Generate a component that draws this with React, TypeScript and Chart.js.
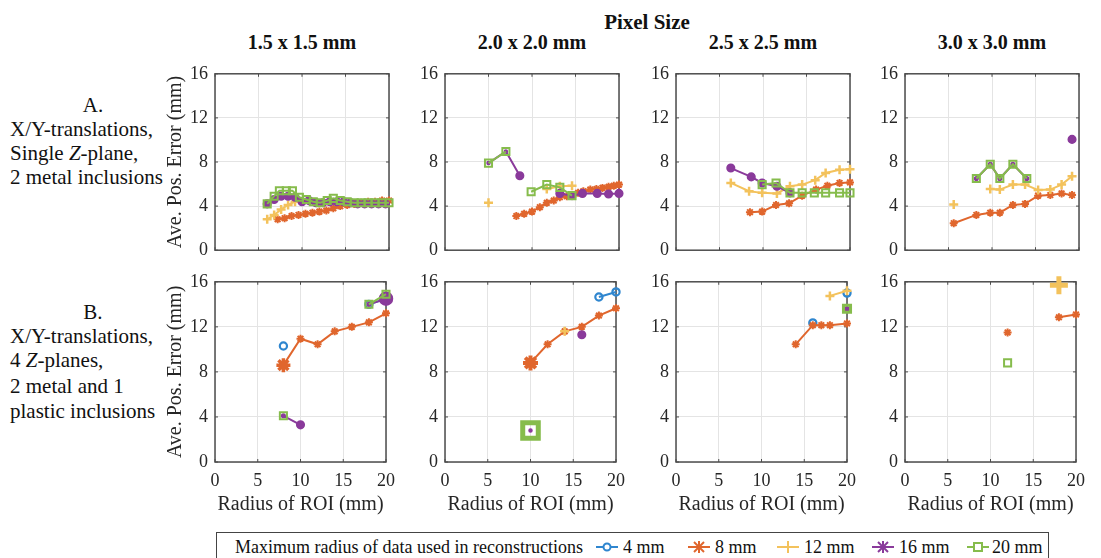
import React, { useEffect, useRef } from 'react';
import { Chart, registerables } from 'chart.js';

Chart.register(...registerables);

type Pt = [number, number | null];

// ---------- axis ticks / labels ----------
const X_TICKS = [0, 5, 10, 15, 20];
const Y_TICKS = [0, 4, 8, 12, 16];
const SERIES_NAMES = ['4 mm', '8 mm', '12 mm', '16 mm', '20 mm'];
const COLUMN_TITLES = ['1.5 x 1.5 mm', '2.0 x 2.0 mm', '2.5 x 2.5 mm', '3.0 x 3.0 mm'];
const X_TITLE = 'Radius of ROI (mm)';
const Y_TITLE = 'Ave. Pos. Error (mm)';
const LEGEND_TITLE = 'Maximum radius of data used in reconstructions';

// ---------- Row A: X/Y-translations, single Z-plane ----------
const A1_4mm: Pt[] = [];
const A1_8mm: Pt[] = [[7.2, 2.8], [8, 2.9], [8.8, 3.1], [9.6, 3.2], [10.4, 3.3], [11.2, 3.4], [12, 3.5], [12.8, 3.6], [13.6, 3.8], [14.4, 4.0], [15.2, 4.1], [16, 4.2], [16.8, 4.3], [17.6, 4.4], [18.4, 4.4], [19.2, 4.5], [20, 4.5]];
const A1_12mm: Pt[] = [[6, 2.8], [6.8, 3.2], [7.6, 3.7], [8.4, 4.1], [9.2, 4.4]];
const A1_16mm: Pt[] = [[6, 4.2], [6.8, 4.6], [7.6, 4.9], [8.4, 4.9], [9.2, 4.8], [10, 4.4], [10.8, 4.5], [11.6, 4.3], [12.4, 4.3], [13.2, 4.4], [14, 4.4], [14.8, 4.4], [15.6, 4.3], [16.4, 4.2], [17.2, 4.2], [18, 4.2], [18.8, 4.2], [19.6, 4.2]];
const A1_20mm: Pt[] = [[6, 4.2], [6.8, 4.9], [7.4, 5.4], [8.2, 5.4], [8.9, 5.4], [9.7, 4.8], [10.5, 4.6], [11.3, 4.4], [12.1, 4.3], [12.9, 4.5], [13.6, 4.7], [14.4, 4.5], [15.2, 4.4], [16, 4.3], [16.8, 4.3], [17.6, 4.3], [18.4, 4.3], [19.2, 4.3], [20, 4.3]];

const A2_4mm: Pt[] = [];
const A2_8mm: Pt[] = [[8.2, 3.1], [9.1, 3.3], [10, 3.5], [10.9, 3.9], [11.7, 4.3], [12.5, 4.5], [13.2, 4.8], [14, 4.9], [14.6, 4.95], [15.3, 5.2], [15.9, 5.35], [16.7, 5.5], [17.4, 5.55], [18.1, 5.65], [18.8, 5.75], [19.4, 5.85], [20, 5.95]];
const A2_12mm: Pt[] = [[5, 4.3], [6, null], [11.7, 5.55], [13.2, 5.8], [14.6, 5.85]];
const A2_16mm: Pt[] = [[5, 7.9], [7, 8.95], [8.6, 6.75], [10, null], [13.2, 5.15], [14.6, 4.95], [15.8, 5.15], [17.5, 5.15], [18.8, 5.1], [20, 5.15]];
const A2_20mm: Pt[] = [[5, 7.9], [7, 8.95], [8.6, null], [9.9, 5.3], [11.7, 5.95], [13.2, 5.7], [14.6, 4.95]];

const A3_4mm: Pt[] = [];
const A3_8mm: Pt[] = [[8.5, 3.45], [9.9, 3.5], [11.5, 4.1], [13, 4.25], [14.5, 4.95], [16.1, 5.5], [17.4, 5.85], [18.8, 6.1], [20, 6.15]];
const A3_12mm: Pt[] = [[6.3, 6.1], [8.4, 5.35], [9.9, 5.2], [11.6, 5.15], [13.1, 5.8], [14.5, 5.95], [16, 6.35], [17.2, 7.0], [18.8, 7.3], [20, 7.35]];
const A3_16mm: Pt[] = [[6.3, 7.45], [8.65, 6.65], [9.9, 6.1], [11.6, 5.8], [13.1, 5.2]];
const A3_20mm: Pt[] = [[9.9, 5.95], [11.5, 6.1], [13.1, 5.2], [14.5, 5.2], [15.9, 5.2], [17.2, 5.2], [18.8, 5.2], [20, 5.2]];

const A4_4mm: Pt[] = [];
const A4_8mm: Pt[] = [[5.6, 2.45], [8.2, 3.2], [9.8, 3.4], [10.9, 3.4], [12.4, 4.1], [13.8, 4.2], [15.3, 4.95], [16.7, 5.0], [18, 5.15], [19.2, 5.0]];
const A4_12mm: Pt[] = [[5.6, 4.15], [6.5, null], [9.8, 5.55], [10.9, 5.5], [12.4, 5.95], [13.8, 5.95], [15.3, 5.45], [16.7, 5.5], [18, 5.95], [19.2, 6.7]];
const A4_16mm: Pt[] = [[8.2, 6.5], [9.8, 7.8], [10.9, 6.5], [12.4, 7.8], [14, 6.5], [15, null], [19.2, 10.05]];
const A4_20mm: Pt[] = [[8.2, 6.5], [9.8, 7.8], [10.9, 6.5], [12.4, 7.8], [14, 6.5]];

// ---------- Row B: X/Y-translations, 4 Z-planes ----------
const B1_4mm: Pt[] = [[8, 10.3], [9, null], [18, 14.0], [20, 14.5]];
const B1_8mm: Pt[] = [[8, 8.6], [10, 10.95], [12, 10.45], [14, 11.6], [16, 12.0], [18, 12.4], [20, 13.2]];
const B1_12mm: Pt[] = [];
const B1_16mm: Pt[] = [[8, 4.1], [10, 3.3], [12, null], [18, 14.0], [20, 14.5]];
const B1_20mm: Pt[] = [[8, 4.1], [10, null], [18, 14.0], [20, 14.9]];

const B2_4mm: Pt[] = [[18, 14.65], [20, 15.1]];
const B2_8mm: Pt[] = [[10, 8.8], [12, 10.45], [14, 11.6], [16, 12.0], [18, 13.0], [20, 13.65]];
const B2_12mm: Pt[] = [[14, 11.6]];
const B2_16mm: Pt[] = [[10, 2.8], [12, null], [16, 11.3]];
const B2_20mm: Pt[] = [[10, 2.8]];

const B3_4mm: Pt[] = [[16, 12.35], [18, null], [20, 15.0]];
const B3_8mm: Pt[] = [[14, 10.45], [16, 12.15], [17, 12.15], [18, 12.15], [20, 12.3]];
const B3_12mm: Pt[] = [[18, 14.75], [20, 15.2]];
const B3_16mm: Pt[] = [[20, 13.6]];
const B3_20mm: Pt[] = [[20, 13.6]];

const B4_4mm: Pt[] = [];
const B4_8mm: Pt[] = [[12, 11.5], [14, null], [18, 12.85], [20, 13.1]];
const B4_12mm: Pt[] = [[18, 15.7]];
const B4_16mm: Pt[] = [];
const B4_20mm: Pt[] = [[12, 8.8]];

const PANELS = [
  { id: 'A1', row: 0, col: 0, series: [A1_4mm, A1_8mm, A1_12mm, A1_16mm, A1_20mm] },
  { id: 'A2', row: 0, col: 1, series: [A2_4mm, A2_8mm, A2_12mm, A2_16mm, A2_20mm] },
  { id: 'A3', row: 0, col: 2, series: [A3_4mm, A3_8mm, A3_12mm, A3_16mm, A3_20mm] },
  { id: 'A4', row: 0, col: 3, series: [A4_4mm, A4_8mm, A4_12mm, A4_16mm, A4_20mm] },
  { id: 'B1', row: 1, col: 0, series: [B1_4mm, B1_8mm, B1_12mm, B1_16mm, B1_20mm] },
  { id: 'B2', row: 1, col: 1, series: [B2_4mm, B2_8mm, B2_12mm, B2_16mm, B2_20mm] },
  { id: 'B3', row: 1, col: 2, series: [B3_4mm, B3_8mm, B3_12mm, B3_16mm, B3_20mm] },
  { id: 'B4', row: 1, col: 3, series: [B4_4mm, B4_8mm, B4_12mm, B4_16mm, B4_20mm] },
];

// ---------- styles / layout ----------
const FONT = "'Liberation Serif', 'Times New Roman', Times, serif";
const COLORS = ['#2F86CF', '#E0662D', '#F3C25C', '#8A3A9B', '#86BC4C'];
const STYLES = [
  { pointStyle: 'circle', r: 3.6, bw: 2.2, fill: false },
  { pointStyle: 'star', r: 4, bw: 2, fill: false },
  { pointStyle: 'cross', r: 4.5, bw: 2.5, fill: false },
  { pointStyle: 'circle', r: 3.8, bw: 1.5, fill: true },
  { pointStyle: 'rect', r: 5, bw: 2, fill: false },
];
// per-panel marker size overrides: panel -> series -> point index
const MARKER_OVERRIDES: Record<string, Record<number, Record<number, { r?: number; bw?: number }>>> = {
  A2: { 3: { 0: { r: 1.5 }, 1: { r: 1.5 } } },
  A4: { 3: { 0: { r: 1.8 }, 1: { r: 1.8 }, 2: { r: 1.8 }, 3: { r: 1.8 }, 4: { r: 1.8 } } },
  B1: { 1: { 0: { r: 7, bw: 3.5 } }, 3: { 0: { r: 1.8 }, 3: { r: 1.8 }, 4: { r: 6.5 } } },
  B2: { 1: { 0: { r: 7.5, bw: 4 } }, 3: { 0: { r: 1.5 } }, 4: { 0: { r: 11, bw: 5 } } },
  B3: { 3: { 0: { r: 2 } }, 4: { 0: { r: 5, bw: 3 } } },
  B4: { 2: { 0: { r: 9, bw: 5 } } },
};

const PLOT_LEFT = [215, 445, 676, 905];
const PLOT_TOP = [68, 276];
const PLOT_W = 174;
const PLOT_H = 186;
const PAD_TOP = 12;
const PAD_RIGHT = 14;

const framePlugin = {
  id: 'frame',
  beforeDatasetsDraw(chart: any) {
    const { ctx, chartArea: a, scales } = chart;
    ctx.save();
    ctx.strokeStyle = '#4d4d4d';
    ctx.lineWidth = 1.5;
    ctx.strokeRect(a.left, a.top, a.right - a.left, a.bottom - a.top);
    ctx.lineWidth = 1;
    ctx.beginPath();
    X_TICKS.forEach((v) => {
      const px = scales.x.getPixelForValue(v);
      ctx.moveTo(px, a.bottom); ctx.lineTo(px, a.bottom - 3);
      ctx.moveTo(px, a.top); ctx.lineTo(px, a.top + 3);
    });
    Y_TICKS.forEach((v) => {
      const py = scales.y.getPixelForValue(v);
      ctx.moveTo(a.left, py); ctx.lineTo(a.left + 3, py);
      ctx.moveTo(a.right, py); ctx.lineTo(a.right - 3, py);
    });
    ctx.stroke();
    ctx.restore();
  },
};

function Panel({ panel }: { panel: (typeof PANELS)[number] }) {
  const ref = useRef<HTMLCanvasElement>(null);
  const yw = panel.col === 0 ? 51 : 40;
  const xh = panel.row === 0 ? 14 : 56;
  const width = yw + PLOT_W + PAD_RIGHT;
  const height = PAD_TOP + PLOT_H + xh;

  useEffect(() => {
    const ov = MARKER_OVERRIDES[panel.id] || {};
    const datasets = panel.series.map((pts, si) => {
      const st = STYLES[si];
      const so = ov[si] || {};
      const c = COLORS[si];
      return {
        label: SERIES_NAMES[si],
        data: pts.map(([x, y]) => ({ x, y })),
        borderColor: c,
        backgroundColor: st.fill ? c : 'rgba(0,0,0,0)',
        borderWidth: 2,
        pointStyle: st.pointStyle as any,
        pointRadius: pts.map((_, i) => (so[i] && so[i].r != null ? so[i].r : st.r)),
        pointBorderWidth: pts.map((_, i) => (so[i] && so[i].bw != null ? so[i].bw : st.bw)),
        pointBackgroundColor: st.fill ? c : 'rgba(0,0,0,0)',
        pointBorderColor: c,
        showLine: true,
        spanGaps: false,
        tension: 0,
        clip: false as any,
        order: 5 - si,
      };
    });

    const chart = new Chart(ref.current!, {
      type: 'line',
      data: { datasets },
      plugins: [framePlugin],
      options: {
        responsive: false,
        maintainAspectRatio: false,
        animation: false,
        devicePixelRatio: 1,
        events: [],
        layout: { autoPadding: false, padding: { top: PAD_TOP, right: PAD_RIGHT, left: 0, bottom: 0 } },
        plugins: { legend: { display: false }, tooltip: { enabled: false }, title: { display: false } },
        scales: {
          x: {
            type: 'linear',
            min: 0,
            max: 20,
            afterBuildTicks: (s: any) => { s.ticks = X_TICKS.map((v) => ({ value: v })); },
            afterFit: (s: any) => { s.height = xh; },
            grid: { color: '#e4e4e4', lineWidth: 1, drawTicks: false },
            border: { display: false },
            ticks: {
              display: panel.row === 1,
              padding: 8,
              color: '#262626',
              font: { family: FONT, size: 18 },
              maxRotation: 0,
            },
            title: {
              display: panel.row === 1,
              text: X_TITLE,
              color: '#262626',
              font: { family: FONT, size: 20 },
              padding: { top: 0, bottom: 1 },
            },
          },
          y: {
            type: 'linear',
            min: 0,
            max: 16,
            afterBuildTicks: (s: any) => { s.ticks = Y_TICKS.map((v) => ({ value: v })); },
            afterFit: (s: any) => { s.width = yw; },
            grid: { color: '#e4e4e4', lineWidth: 1, drawTicks: false },
            border: { display: false },
            ticks: {
              padding: 7,
              color: '#262626',
              font: { family: FONT, size: 18 },
            },
            title: {
              display: panel.col === 0,
              text: Y_TITLE,
              color: '#262626',
              font: { family: FONT, size: 20 },
              padding: { top: 0, bottom: 0 },
            },
          },
        },
      } as any,
    });
    return () => chart.destroy();
  }, []);

  return (
    <canvas
      ref={ref}
      width={width}
      height={height}
      style={{
        position: 'absolute',
        left: PLOT_LEFT[panel.col] - yw,
        top: PLOT_TOP[panel.row] - PAD_TOP,
        width,
        height,
      }}
    />
  );
}

const txt = (extra: React.CSSProperties): React.CSSProperties => ({
  position: 'absolute',
  fontFamily: FONT,
  color: '#111',
  whiteSpace: 'nowrap',
  lineHeight: '24px',
  height: 24,
  ...extra,
});

function LegendIcon({ idx }: { idx: number }) {
  const c = COLORS[idx];
  const cx = 12, cy = 9;
  let marker: React.ReactNode = null;
  if (idx === 0) marker = <circle cx={cx} cy={cy} r={3.5} fill="white" stroke={c} strokeWidth={2} />;
  if (idx === 1 || idx === 3)
    marker = (
      <g stroke={c} strokeWidth={2}>
        <line x1={cx - 5} y1={cy - 5} x2={cx + 5} y2={cy + 5} />
        <line x1={cx - 5} y1={cy + 5} x2={cx + 5} y2={cy - 5} />
        <line x1={cx} y1={cy - 6} x2={cx} y2={cy + 6} />
      </g>
    );
  if (idx === 2)
    marker = (
      <g stroke={c} strokeWidth={2}>
        <line x1={cx} y1={cy - 6} x2={cx} y2={cy + 6} />
      </g>
    );
  if (idx === 4) marker = <rect x={cx - 4} y={cy - 4} width={8} height={8} fill="white" stroke={c} strokeWidth={2} />;
  return (
    <svg width={24} height={18} style={{ position: 'absolute', top: -9, left: -12 }}>
      <line x1={1} y1={cy} x2={23} y2={cy} stroke={c} strokeWidth={2} />
      {marker}
    </svg>
  );
}

const LEGEND_ICON_X = [607, 699, 788, 883, 978];
const LEGEND_TEXT_X = [623, 715, 804, 899, 992];

export default function App() {
  return (
    <div style={{ position: 'absolute', left: 0, top: 0, width: 1101, height: 558, overflow: 'hidden', background: '#fff' }}>
      <div style={txt({ left: 547, width: 200, top: 10, textAlign: 'center', fontWeight: 'bold', fontSize: 21 })}>Pixel Size</div>
      {COLUMN_TITLES.map((t, i) => (
        <div key={t} style={txt({ left: PLOT_LEFT[i] + PLOT_W / 2 - 100, width: 200, top: 30, textAlign: 'center', fontWeight: 'bold', fontSize: 20 })}>
          {t}
        </div>
      ))}

      {/* Row A label */}
      <div style={txt({ left: 63, width: 60, top: 93, textAlign: 'center', fontSize: 21 })}>A.</div>
      <div style={txt({ left: 10, top: 117, fontSize: 21 })}>X/Y-translations,</div>
      <div style={txt({ left: 10, top: 141, fontSize: 21 })}>Single <i>Z</i>-plane,</div>
      <div style={txt({ left: 10, top: 165, fontSize: 21 })}>2 metal inclusions</div>

      {/* Row B label */}
      <div style={txt({ left: 63, width: 60, top: 300, textAlign: 'center', fontSize: 21 })}>B.</div>
      <div style={txt({ left: 10, top: 324, fontSize: 21 })}>X/Y-translations,</div>
      <div style={txt({ left: 10, top: 348, fontSize: 21 })}>4 <i>Z</i>-planes,</div>
      <div style={txt({ left: 10, top: 374, fontSize: 21 })}>2 metal and 1</div>
      <div style={txt({ left: 10, top: 399, fontSize: 21 })}>plastic inclusions</div>

      {PANELS.map((p) => (
        <Panel key={p.id} panel={p} />
      ))}

      {/* Legend */}
      <div style={{ position: 'absolute', left: 216, top: 532, width: 1049 - 216, height: 40, border: '1.5px solid #444', boxSizing: 'border-box', background: '#fff' }} />
      <div style={txt({ left: 235, top: 535, fontSize: 18 })}>{LEGEND_TITLE}</div>
      {SERIES_NAMES.map((n, i) => (
        <React.Fragment key={n}>
          <div style={{ position: 'absolute', left: LEGEND_ICON_X[i], top: 547, width: 0, height: 0 }}>
            <LegendIcon idx={i} />
          </div>
          <div style={txt({ left: LEGEND_TEXT_X[i], top: 535, fontSize: 18 })}>{n}</div>
        </React.Fragment>
      ))}
    </div>
  );
}
